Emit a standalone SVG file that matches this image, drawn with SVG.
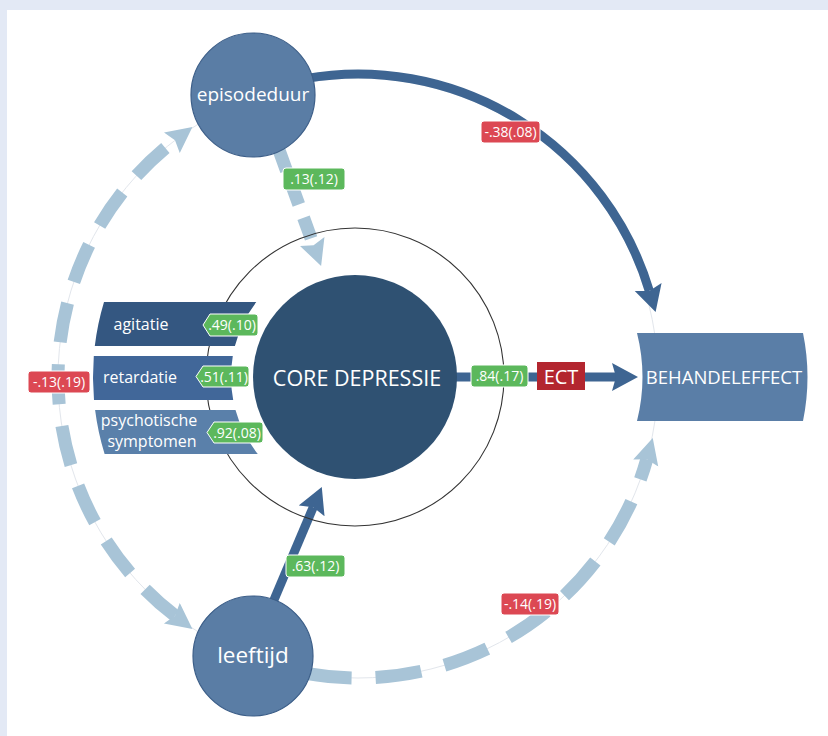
<svg xmlns="http://www.w3.org/2000/svg" width="828" height="736" viewBox="0 0 828 736">
<style>
  text { font-family: "Open Sans", "Noto Sans", "DejaVu Sans", sans-serif; fill: #ffffff; }
  .node { fill: #5a7da5; stroke: #3c5e88; stroke-width: 1.2; }
  .solid { fill: none; stroke: #3e6592; stroke-width: 9; }
  .dash { fill: none; stroke: #a8c4d7; stroke-width: 13; }
  .green { fill: #5cb85c; stroke: #ffffff; stroke-width: 1; }
  .red { fill: #dc4853; stroke: #ffffff; stroke-width: 1; }
  .lbl { font-size: 14px; text-anchor: middle; }
  .bar { font-size: 16px; text-anchor: middle; }
</style>
<defs>
  <marker id="arrDark" markerUnits="userSpaceOnUse" markerWidth="30" markerHeight="30" refX="4" refY="14" orient="auto">
    <path d="M0,0 L26,14 L0,28 L4,14 Z" fill="#3e6592"/>
  </marker>
  <marker id="arrLight" markerUnits="userSpaceOnUse" markerWidth="30" markerHeight="30" refX="4" refY="13" orient="auto-start-reverse">
    <path d="M0,0 L26,13 L0,26 L4,13 Z" fill="#a8c4d7"/>
  </marker>
</defs>

<rect x="0" y="0" width="828" height="736" fill="#e3e9f5"/>
<rect x="7" y="10" width="821" height="726" fill="#ffffff"/>

<circle cx="358" cy="378" r="300" fill="none" stroke="#e2e6ec" stroke-width="1"/>

<g id="connectors">
  <path class="solid" d="M305.2 78.6 A304 304 0 0 1 649.3 290.9" marker-end="url(#arrDark)"/>
  <path class="solid" d="M450 377 H616" marker-end="url(#arrDark)"/>
  <path class="solid" d="M268 614 L313.2 507.2" marker-end="url(#arrDark)"/>
  <path class="dash" d="M279 150 L313.6 245.3" stroke-dasharray="22 14" marker-end="url(#arrLight)"/>
  <path class="dash" d="M175 615.7 A300 300 0 0 1 175 140.3" stroke-dasharray="40 22" marker-start="url(#arrLight)" marker-end="url(#arrLight)"/>
  <path class="dash" d="M305.9 673.4 A300 300 0 0 0 646.8 459.2" stroke-dasharray="46 24" marker-end="url(#arrLight)"/>
</g>

<circle cx="355" cy="377" r="149" fill="none" stroke="#333333" stroke-width="1.1"/>

<g id="core">
  <circle cx="355" cy="377" r="102" fill="#2f5172"/>
  <text x="357" y="386" font-size="21.5" text-anchor="middle">CORE DEPRESSIE</text>
</g>

<g id="agitatie">
  <path d="M104 302 L256.3 302 A124 124 0 0 0 234.9 346 L94.8 346 A262 262 0 0 1 104 302 Z" fill="#345781"/>
  <text class="bar" x="141" y="330">agitatie</text>
</g>
<g id="retardatie">
  <path d="M93.8 356 L232.8 356 A124 124 0 0 0 233.2 400 L94 400 A262 262 0 0 1 93.8 356 Z" fill="#416799"/>
  <text class="bar" x="140" y="383">retardatie</text>
</g>
<g id="psychotische">
  <path d="M95.1 410 L235.5 410 A124 124 0 0 0 257.8 454 L104.6 454 A262 262 0 0 1 95.1 410 Z" fill="#5a80aa"/>
  <text class="bar" x="149" y="426">psychotische</text>
  <text class="bar" x="152" y="447">symptomen</text>
</g>

<g id="episodeduur">
  <circle class="node" cx="253" cy="95" r="62"/>
  <text x="253" y="101" font-size="19" text-anchor="middle">episodeduur</text>
</g>
<g id="leeftijd">
  <circle class="node" cx="253" cy="656" r="60"/>
  <text x="253" y="663" font-size="22.5" text-anchor="middle">leeftijd</text>
</g>
<g id="behandeleffect">
  <path d="M637 333 L803 333 Q812 377 803 421 L637 421 Q648 377 637 333 Z" fill="#5a7ea7"/>
  <text x="724" y="384" font-size="18.5" text-anchor="middle">BEHANDELEFFECT</text>
</g>

<g id="labels">
  <path class="green" d="M210 314 H255 Q258 314 258 317 V333 Q258 336 255 336 H210 L203 325 Z"/>
  <text class="lbl" x="232" y="330">.49(.10)</text>
  <path class="green" d="M203 366 H246 Q249 366 249 369 V384 Q249 387 246 387 H203 L196 376.5 Z"/>
  <text class="lbl" x="224" y="381.5">.51(.11)</text>
  <path class="green" d="M214 422 H260 Q263 422 263 425 V440 Q263 443 260 443 H214 L207 432.5 Z"/>
  <text class="lbl" x="237" y="437.5">.92(.08)</text>

  <rect class="green" x="283" y="168" width="62" height="22" rx="3"/>
  <text class="lbl" x="314" y="184">.13(.12)</text>
  <rect class="green" x="286" y="555" width="59" height="22" rx="3"/>
  <text class="lbl" x="315.5" y="571">.63(.12)</text>
  <rect class="green" x="471" y="365" width="57" height="22" rx="3"/>
  <text class="lbl" x="499.5" y="381">.84(.17)</text>

  <rect class="red" x="481" y="121" width="59" height="22" rx="3"/>
  <text class="lbl" x="510.5" y="137">-.38(.08)</text>
  <rect class="red" x="28" y="371" width="62" height="22" rx="3"/>
  <text class="lbl" x="59" y="387">-.13(.19)</text>
  <rect class="red" x="501" y="593" width="58" height="22" rx="3"/>
  <text class="lbl" x="530" y="609">-.14(.19)</text>

  <rect x="537" y="362" width="48" height="28" fill="#b3262f"/>
  <text x="561" y="384" font-size="20" text-anchor="middle">ECT</text>
</g>
</svg>
